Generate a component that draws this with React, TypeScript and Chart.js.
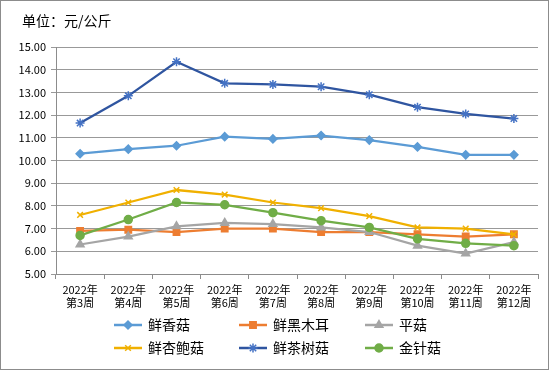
import React, { useEffect, useRef } from "react";
import { Chart, registerables } from "chart.js";
import { drawPoint } from "chart.js/helpers";

Chart.register(...registerables);

const weeks = ["第3周", "第4周", "第5周", "第6周", "第7周", "第8周", "第9周", "第10周", "第11周", "第12周"];
const year = "2022年";

const seriesNames = ["鲜香菇", "鲜黑木耳", "平菇", "鲜杏鲍菇", "鲜茶树菇", "金针菇"];
const xianxianggu = [10.3, 10.5, 10.65, 11.05, 10.95, 11.1, 10.9, 10.6, 10.25, 10.25];
const xianheimuer = [6.9, 6.95, 6.85, 7.0, 7.0, 6.85, 6.85, 6.75, 6.65, 6.75];
const pinggu = [6.3, 6.65, 7.1, 7.25, 7.2, 7.05, 6.85, 6.25, 5.9, 6.4];
const xingbaogu = [7.6, 8.15, 8.7, 8.5, 8.15, 7.9, 7.55, 7.05, 7.0, 6.75];
const chashugu = [11.65, 12.85, 14.35, 13.4, 13.35, 13.25, 12.9, 12.35, 12.05, 11.85];
const jinzhengu = [6.7, 7.4, 8.15, 8.05, 7.7, 7.35, 7.05, 6.55, 6.35, 6.25];

const yTicks = [5, 6, 7, 8, 9, 10, 11, 12, 13, 14, 15];
const titleText = "单位：元/公斤";

const seriesValues = [xianxianggu, xianheimuer, pinggu, xingbaogu, chashugu, jinzhengu];
const lineColors = ["#5B9BD5", "#ED7D31", "#A5A5A5", "#F0B000", "#2F55A0", "#70AD47"];
const markerColors = ["#5B9BD5", "#ED7D31", "#A5A5A5", "#F0B000", "#4472C4", "#70AD47"];
const markerStyles = ["rectRot", "rect", "triangle", "crossRot", "star", "circle"];
const markerRadius = [4, 4.5, 4.5, 4, 4.5, 4];

const FONT = "'Noto Sans CJK SC', 'Noto Sans', sans-serif";

const decorPlugin = {
  id: "decor",
  beforeDraw(chart: any) {
    const ctx = chart.ctx;
    ctx.save();
    ctx.fillStyle = "#ffffff";
    ctx.fillRect(0, 0, chart.width, chart.height);
    ctx.restore();
  },
  afterDraw(chart: any) {
    const ctx = chart.ctx;
    ctx.save();
    ctx.strokeStyle = "#8c8c8c";
    ctx.lineWidth = 1;
    ctx.strokeRect(0.5, 0.5, chart.width - 1, chart.height - 1);
    ctx.fillStyle = "#000";
    ctx.font = `14px ${FONT}`;
    ctx.textBaseline = "middle";
    ctx.textAlign = "left";
    ctx.fillText(titleText, 22, 21);

    const colX = [114, 239, 365];
    const rowY = [325, 348];
    chart.data.datasets.forEach((ds: any, i: number) => {
      const x = colX[i % 3];
      const y = rowY[Math.floor(i / 3)];
      ctx.strokeStyle = lineColors[i];
      ctx.lineWidth = 2.5;
      ctx.beginPath();
      ctx.moveTo(x, y);
      ctx.lineTo(x + 28, y);
      ctx.stroke();
      ctx.fillStyle = markerColors[i];
      ctx.strokeStyle = markerColors[i];
      ctx.lineWidth = 1.5;
      drawPoint(
        ctx,
        { pointStyle: markerStyles[i], radius: markerRadius[i], borderWidth: 1.5, rotation: 0 } as any,
        x + 14,
        y
      );
      ctx.fillStyle = "#000";
      ctx.font = `14px ${FONT}`;
      ctx.textAlign = "left";
      ctx.textBaseline = "middle";
      ctx.fillText(ds.label, x + 34, y);
    });
    ctx.restore();
  },
};

export default function App() {
  const ref = useRef<HTMLCanvasElement | null>(null);

  useEffect(() => {
    document.body.style.margin = "0";
    const canvas = ref.current;
    if (!canvas) return;
    const labels = weeks.map((w) => [year, w]);
    const datasets = seriesNames.map((name, i) => ({
      label: name,
      data: seriesValues[i],
      borderColor: lineColors[i],
      backgroundColor: markerColors[i],
      pointBackgroundColor: markerColors[i],
      pointBorderColor: markerColors[i],
      pointStyle: markerStyles[i],
      pointRadius: markerRadius[i],
      pointBorderWidth: 1.5,
      borderWidth: 2.25,
      tension: 0,
      order: 6 - i,
    }));

    const chart = new Chart(canvas, {
      type: "line",
      data: { labels, datasets },
      plugins: [decorPlugin],
      options: {
        animation: false,
        responsive: false,
        devicePixelRatio: 1,
        layout: { padding: { top: 47, right: 11, bottom: 0, left: 0 } },
        plugins: {
          legend: { display: false },
          tooltip: { enabled: false },
          title: { display: false },
        },
        scales: {
          x: {
            offset: true,
            grid: {
              offset: true,
              drawOnChartArea: false,
              drawTicks: true,
              tickLength: 5,
              color: "#8c8c8c",
            },
            border: { display: true, color: "#8c8c8c", width: 1 },
            ticks: {
              color: "#000",
              font: { family: FONT, size: 11 },
              padding: 4,
              maxRotation: 0,
              autoSkip: false,
            },
            afterFit(scale: any) {
              scale.height = 96;
            },
          },
          y: {
            min: 5,
            max: 15,
            afterBuildTicks(scale: any) {
              scale.ticks = yTicks.map((v) => ({ value: v }));
            },
            grid: {
              color: "#999999",
              lineWidth: 1,
              tickLength: 5,
              drawTicks: true,
            },
            border: { display: true, color: "#8c8c8c", width: 1 },
            ticks: {
              color: "#000",
              font: { family: FONT, size: 11 },
              padding: 5,
              callback: (v: any) => Number(v).toFixed(2),
            },
            afterFit(scale: any) {
              scale.width = 56;
            },
          },
        },
      },
    } as any);
    return () => chart.destroy();
  }, []);

  return (
    <div style={{ width: 549, height: 370 }}>
      <canvas ref={ref} width={549} height={370} style={{ display: "block" }} />
    </div>
  );
}
